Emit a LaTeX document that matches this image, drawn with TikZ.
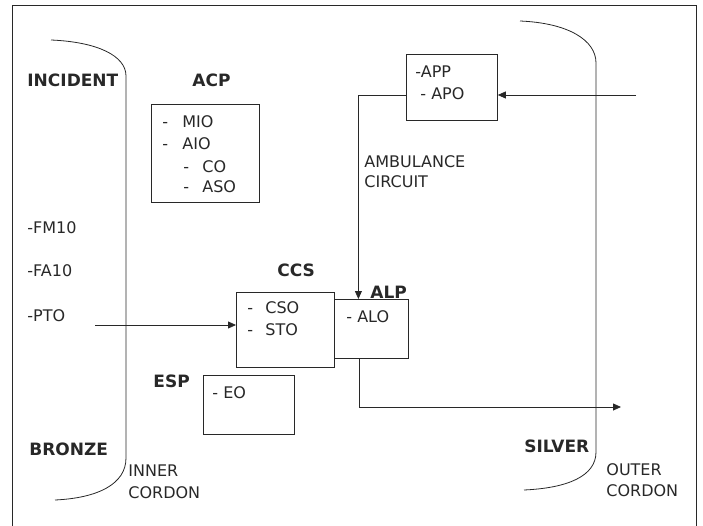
\documentclass[tikz,border=0pt]{standalone}
\usepackage{fontspec}
\setmainfont{DejaVu Sans}
\usepackage{tikz}
\usetikzlibrary{
	arrows.meta,
	calc,
	positioning
}
\definecolor{InkGray}{RGB}{40,40,40}
\tikzset{
	txt/.style={font=\fontsize{16}{22}\selectfont, inner sep=0pt, anchor=west, text=InkGray},
	head/.style={font=\fontsize{17}{20}\selectfont\bfseries, inner sep=0pt, anchor=west, text=InkGray},
	box/.style={draw=InkGray, inner sep=0pt, anchor=north west},
	arr/.style={draw=InkGray, -{Triangle[length=8pt,width=7pt]}}
}
\newcommand{\dashitem}[2]{\makebox[#1][l]{-}#2}

\begin{document}
\begin{tikzpicture}[x=1pt, y=-1pt, line width=0.8pt]
		\useasboundingbox (0,0) rectangle (703,526);
		% frame
		\draw[InkGray] (12,526) -- (12,5) -- (696,5) -- (696,526);
		% inner cordon
		\draw[InkGray] (51,40) .. controls (98,42) and (126,56) .. (126,76) -- (126,458) .. controls (126,484) and (98,498) .. (55,500);
		\node[txt, align=left, font=\fontsize{16}{22}\selectfont] (inner) at (128,482) {INNER\\CORDON};
		% outer cordon
		\draw[InkGray] (520,21) .. controls (568,23) and (596,40) .. (596,63) -- (596,452) .. controls (596,476) and (568,488) .. (524,490);
		\node[txt, align=left, font=\fontsize{16}{21}\selectfont] (outer) at (606,480) {OUTER\\CORDON};
		% zones
		\node[head] (incident) at (27,80) {INCIDENT};
		\node[head] (bronze) at (29,449) {BRONZE};
		\node[head] (silver) at (524,446) {SILVER};
		\node[txt] (fm) at (27,228) {-FM10};
		\node[txt] (fa) at (27,271) {-FA10};
		\node[txt] (pto) at (27,316) {-PTO};
		% ACP
		\node[head] (acplbl) at (192,80) {ACP};
		\node[box, minimum width=108pt, minimum height=98pt] (acp) at (151,104) {};
		\node[txt] (mio) at (162,122) {\dashitem{20pt}{MIO}};
		\node[txt] (aio) at (162,144) {\dashitem{20pt}{AIO}};
		\node[txt] (co) at (183,167) {\dashitem{19pt}{CO}};
		\node[txt] (aso) at (183,187) {\dashitem{19pt}{ASO}};
		% APP
		\node[box, minimum width=91pt, minimum height=66pt] (app) at (406,54) {};
		\node[txt] (applbl) at (415,72) {-APP};
		\node[txt] (apo) at (420,94) {- APO};
		\node[txt, align=left, font=\fontsize{16}{20}\selectfont] (circuit) at (364,172) {AMBULANCE\\CIRCUIT};
		% CCS
		\node[head] (ccslbl) at (277,270) {CCS};
		\node[box, minimum width=98pt, minimum height=75pt] (ccs) at (236,292) {};
		\node[txt] (cso) at (247,308) {\dashitem{18pt}{CSO}};
		\node[txt] (sto) at (247,330) {\dashitem{18pt}{STO}};
		% ALP
		\node[head] (alplbl) at (370,292) {ALP};
		\node[box, minimum width=74pt, minimum height=59pt] (alp) at (334,299) {};
		\node[txt] (alo) at (346,317) {- ALO};
		% ESP
		\node[head] (esplbl) at (153,381) {ESP};
		\node[box, minimum width=91pt, minimum height=59pt] (esp) at (203,375) {};
		\node[txt] (eo) at (212,393) {- EO};
		% connectors
		\coordinate (ptostart) at (95,325);
		\coordinate (apoin) at (636,95);
		\coordinate (exit) at (621,407);
		\draw[arr] (ptostart) -- (ptostart -| ccs.west);
		\draw[arr] (apoin) -- (apoin -| app.east);
		\draw[arr] (app.west |- apoin) -| ([xshift=-13pt]alp.north);
		\draw[arr] ([xshift=-12pt]alp.south) |- (exit);
	\end{tikzpicture}
\end{document}
